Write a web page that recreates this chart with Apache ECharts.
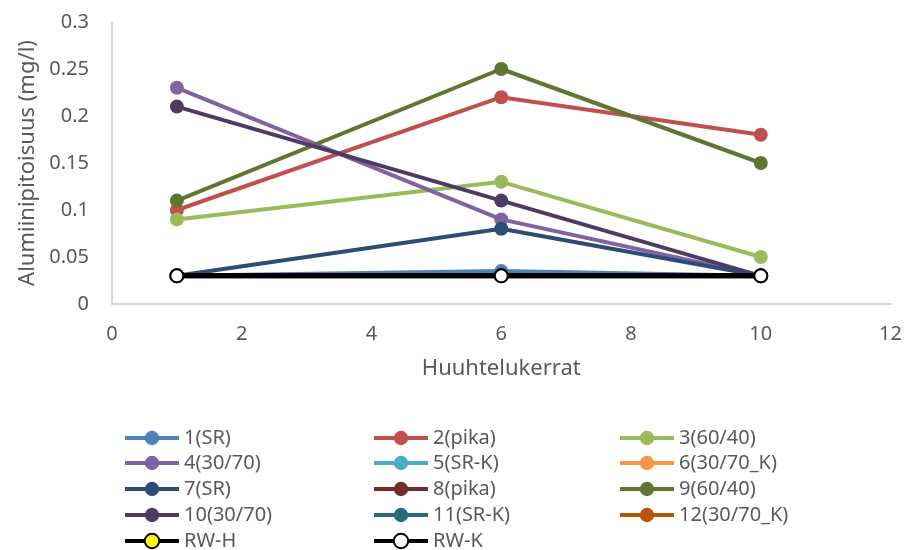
<!DOCTYPE html>
<html>
<head>
<meta charset="utf-8">
<script src="https://cdn.jsdelivr.net/npm/echarts@6/dist/echarts.min.js"></script>
<style>
  html, body { margin: 0; padding: 0; background: #fff; }
  #chart { width: 905px; height: 550px; }
</style>
</head>
<body>
<div id="chart"></div>
<script>
// Rinse counts (x) and aluminium concentration per sample (mg/l)
const rinseCounts = [1, 6, 10];

const s1_SR     = [0.03, 0.035, 0.03];
const s2_pika   = [0.10, 0.22, 0.18];
const s3_6040   = [0.09, 0.13, 0.05];
const s4_3070   = [0.23, 0.09, 0.03];
const s5_SRK    = [0.03, 0.03, 0.03];
const s6_3070K  = [0.03, 0.03, 0.03];
const s7_SR     = [0.03, 0.08, 0.03];
const s8_pika   = [0.03, 0.03, 0.03];
const s9_6040   = [0.11, 0.25, 0.15];
const s10_3070  = [0.21, 0.11, 0.03];
const s11_SRK   = [0.03, 0.03, 0.03];
const s12_3070K = [0.03, 0.03, 0.03];
const rwH       = [0.03, 0.03, 0.03];
const rwK       = [0.03, 0.03, 0.03];

const seriesNames = ['1(SR)', '2(pika)', '3(60/40)', '4(30/70)', '5(SR-K)', '6(30/70_K)',
  '7(SR)', '8(pika)', '9(60/40)', '10(30/70)', '11(SR-K)', '12(30/70_K)', 'RW-H', 'RW-K'];
const seriesValues = [s1_SR, s2_pika, s3_6040, s4_3070, s5_SRK, s6_3070K,
  s7_SR, s8_pika, s9_6040, s10_3070, s11_SRK, s12_3070K, rwH, rwK];

const xTicks = [0, 2, 4, 6, 8, 10, 12];
const yTicks = [0, 0.05, 0.1, 0.15, 0.2, 0.25, 0.3];

const lineColors = ['#4F81BD', '#C0504D', '#9BBB59', '#8064A2', '#4BACC6', '#F79646',
  '#2C4D75', '#772C2A', '#5F7530', '#4D3B62', '#276A7C', '#B65708', '#000000', '#000000'];
const markerFill = lineColors.slice(0, 12).concat(['#FFFF00', '#FFFFFF']);

const FONT = 'Noto Sans';
const TXT = '#595959';

const series = seriesNames.map((name, i) => {
  const isRW = i >= 12;
  return {
    name: name,
    type: 'line',
    data: rinseCounts.map((x, k) => [x, seriesValues[i][k]]),
    symbol: 'circle',
    symbolSize: isRW ? 13 : 14,
    lineStyle: { color: lineColors[i], width: isRW ? 5 : 4 },
    itemStyle: {
      color: markerFill[i],
      borderColor: isRW ? '#000' : lineColors[i],
      borderWidth: isRW ? 2 : 0
    },
    emphasis: { disabled: true },
    z: 2 + i
  };
});

// Legend laid out as a 3-column grid: one legend component per cell
const legendCols = [123, 372, 618];
const legendRowCenters = [437, 462, 488, 514, 540];
const legends = seriesNames.map((name, i) => {
  // 1..12 fill rows left-to-right, RW-H / RW-K share the last row
  const col = i % 3;
  const row = Math.floor(i / 3);
  return {
    data: [name],
    left: legendCols[col],
    top: legendRowCenters[row] - 9,
    padding: 0,
    itemWidth: 54,
    itemHeight: 18,
    selectedMode: false,
    lineStyle: { width: 4 },
    textStyle: { fontFamily: FONT, fontSize: 20, color: TXT, lineHeight: 18 }
  };
});

const option = {
  animation: false,
  grid: { left: 112, right: 13, top: 22, bottom: 246, containLabel: false },
  xAxis: {
    type: 'value',
    min: xTicks[0], max: xTicks[xTicks.length - 1], interval: xTicks[1] - xTicks[0],
    name: 'Huuhtelukerrat',
    nameLocation: 'middle',
    nameGap: 54,
    nameTextStyle: { fontFamily: FONT, fontSize: 22, color: TXT },
    axisLine: { show: true, lineStyle: { color: '#C8C8C8', width: 1.5 } },
    axisTick: { show: false },
    splitLine: { show: false },
    axisLabel: { fontFamily: FONT, fontSize: 20, color: TXT, margin: 20 }
  },
  yAxis: {
    type: 'value',
    min: yTicks[0], max: yTicks[yTicks.length - 1], interval: yTicks[1] - yTicks[0],
    name: 'Alumiinipitoisuus (mg/l)',
    nameLocation: 'middle',
    nameGap: 73,
    nameTextStyle: { fontFamily: FONT, fontSize: 22, color: TXT },
    axisLine: { show: true, lineStyle: { color: '#C8C8C8', width: 1.5 } },
    axisTick: { show: false },
    splitLine: { show: false },
    axisLabel: {
      fontFamily: FONT, fontSize: 20, color: TXT, margin: 23,
      formatter: v => String(parseFloat(v.toFixed(2)))
    }
  },
  legend: legends,
  series: series
};

const chart = echarts.init(document.getElementById('chart'), null, { renderer: 'canvas' });
chart.setOption(option);
</script>
</body>
</html>
